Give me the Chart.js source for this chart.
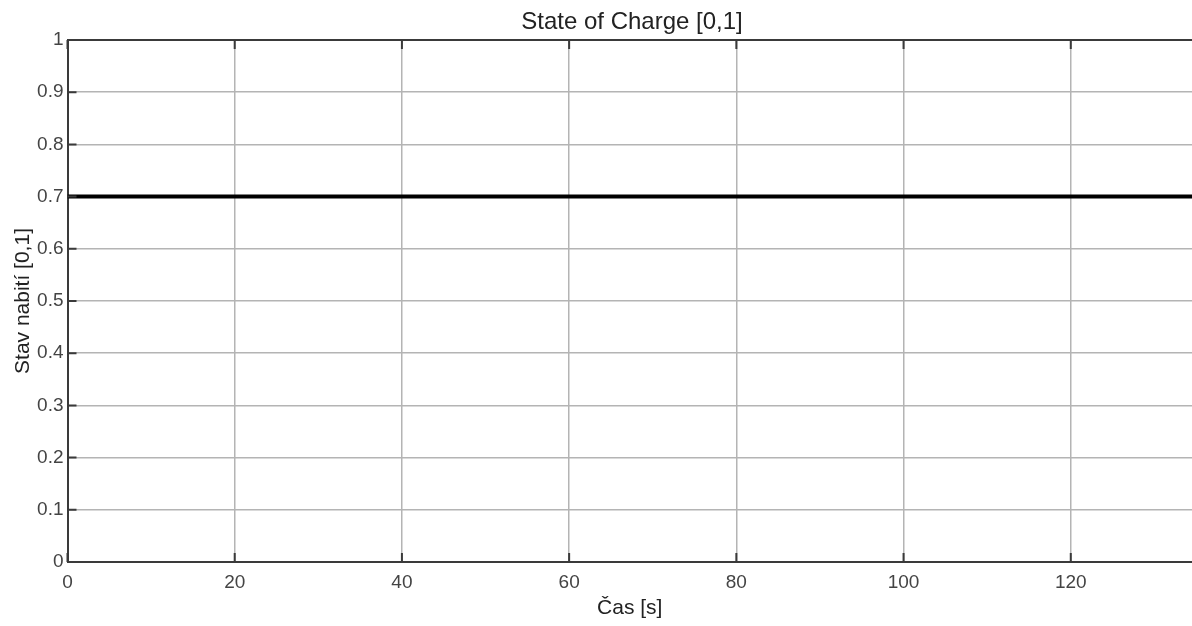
<!DOCTYPE html>
<html>
<head>
<meta charset="utf-8">
<script src="https://cdn.jsdelivr.net/npm/chart.js@4"></script>
<style>
  html, body { margin: 0; padding: 0; background: #fff; }
  #wrap { width: 1192px; height: 626px; }
</style>
</head>
<body>
<div id="wrap"><canvas id="soc-chart"></canvas></div>
<script>
// time axis [s] and state of charge values
const time = [0, 134.5];
const soc = [0.7, 0.7];
const xTicks = [0, 20, 40, 60, 80, 100, 120];
const yTicks = [0, 0.1, 0.2, 0.3, 0.4, 0.5, 0.6, 0.7, 0.8, 0.9, 1];

const titleText = 'State of Charge [0,1]';
const xLabel = 'Čas [s]';
const yLabel = 'Stav nabití [0,1]';

const fontFamily = '"Liberation Sans", Arial, sans-serif';
const axisColor = '#3a3a3a';
const gridColor = '#b4b4b4';

// matlab style: inward ticks + title centred over the axes
const matlabAxes = {
  id: 'matlabAxes',
  afterDraw(chart) {
    const { ctx, chartArea, scales } = chart;
    ctx.save();
    ctx.strokeStyle = axisColor;
    ctx.lineWidth = 2;
    ctx.beginPath();
    xTicks.forEach(v => {
      const px = scales.x.getPixelForValue(v);
      ctx.moveTo(px, chartArea.bottom);
      ctx.lineTo(px, chartArea.bottom - 9);
      ctx.moveTo(px, chartArea.top);
      ctx.lineTo(px, chartArea.top + 9);
    });
    yTicks.forEach(v => {
      const py = scales.y.getPixelForValue(v);
      ctx.moveTo(chartArea.left, py);
      ctx.lineTo(chartArea.left + 9, py);
    });
    ctx.stroke();

    const axesWidth = 2 * (632 - chartArea.left);
    ctx.fillStyle = '#222';
    ctx.font = '24px ' + fontFamily;
    ctx.textAlign = 'center';
    ctx.textBaseline = 'middle';
    ctx.fillText(titleText, chartArea.left + axesWidth / 2, 22);
    ctx.restore();
  }
};

const ctx = document.getElementById('soc-chart').getContext('2d');
new Chart(ctx, {
  type: 'line',
  data: {
    datasets: [
      {
        label: 'SOC',
        data: time.map((t, i) => ({ x: t, y: soc[i] })),
        borderColor: '#000',
        borderWidth: 4,
        pointRadius: 0,
        fill: false,
      },
    ],
  },
  options: {
    responsive: true,
    maintainAspectRatio: false,
    animation: false,
    layout: { padding: { top: 40, right: 0, left: 0, bottom: 0 } },
    plugins: {
      legend: { display: false },
      tooltip: { enabled: false },
      title: { display: false },
    },
    scales: {
      x: {
        type: 'linear',
        min: 0,
        max: 134.5,
        afterBuildTicks: scale => { scale.ticks = xTicks.map(v => ({ value: v })); },
        afterFit: scale => { scale.height = 64; },
        grid: { color: gridColor, lineWidth: 1.5, drawTicks: false },
        border: { color: axisColor, width: 2 },
        ticks: {
          color: '#444',
          padding: 9,
          maxRotation: 0,
          callback: v => String(v),
          font: { family: fontFamily, size: 19 },
        },
        title: {
          display: true,
          text: xLabel,
          color: '#222',
          padding: { top: 0, bottom: 5 },
          font: { family: fontFamily, size: 21 },
        },
      },
      y: {
        type: 'linear',
        min: 0,
        max: 1,
        afterBuildTicks: scale => { scale.ticks = yTicks.map(v => ({ value: v })); },
        afterFit: scale => { scale.width = 67.5; },
        grid: {
          color: c => (c.tick && c.tick.value === 1 ? axisColor : gridColor),
          lineWidth: c => (c.tick && c.tick.value === 1 ? 2 : 1.5),
          drawTicks: false,
        },
        border: { color: axisColor, width: 2 },
        ticks: {
          color: '#444',
          padding: 4,
          callback: v => String(v),
          font: { family: fontFamily, size: 19 },
        },
        title: {
          display: true,
          text: yLabel,
          color: '#222',
          padding: { top: 11, bottom: 0 },
          font: { family: fontFamily, size: 21 },
        },
      },
    },
  },
  plugins: [matlabAxes],
});
</script>
</body>
</html>
